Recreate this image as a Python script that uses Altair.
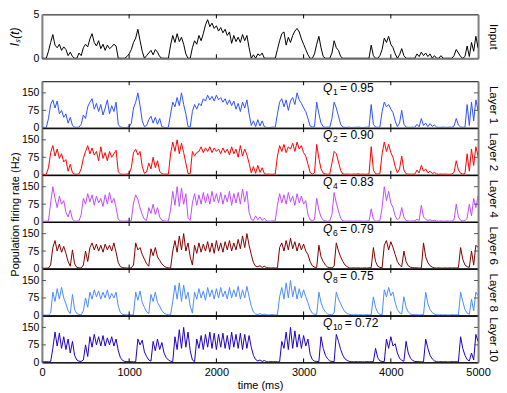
import altair as alt
import pandas as pd

# ---------------- data (25 ms sampling) ----------------
STEP_MS = 25
time_ms = list(range(0, 5001, STEP_MS))

input_current = [
    0, 0, 0, 0.8, 1.8, 2.7, 1.5, 1.2, 1.6, 0.9,
    1.3, 1.0, 0.3, 0.7, 0.2, 0, 0, 0.6, 0.3, 1.2,
    1.6, 1.3, 2.2, 2.8, 1.8, 1.4, 2.0, 1.1, 1.6, 0.9,
    1.5, 1.1, 1.3, 1.6, 1.4, 0, 0, 0, 0, 0.2,
    0.5, 1.0, 1.8, 2.3, 3.3, 2.0, 0.8, 0, 0.3, 0.6,
    0.9, 0.4, 1.0, 0.7, 0.2, 0, 0, 0, 0, 1.5,
    2.6, 1.8, 2.8, 1.9, 2.4, 1.6, 0.5, 0, 0, 1.2,
    2.0, 1.6, 2.6, 2.0, 2.8, 3.8, 4.4, 3.6, 4.0, 3.4,
    3.7, 3.1, 3.5, 2.9, 3.3, 2.6, 3.0, 1.7, 2.6, 1.9,
    2.4, 1.8, 2.7, 2.0, 2.6, 1.2, 0, 0.4, 0, 0.5,
    0.3, 0.6, 0, 0, 0, 0, 0, 0, 1.0, 2.0,
    2.8, 3.0, 1.5, 2.4, 1.8, 2.6, 3.1, 3.4, 3.0, 2.2,
    1.6, 1.0, 0.4, 0, 0, 0.5, 1.6, 2.5, 1.2, 0.2,
    0, 0, 0, 0.6, 2.0, 1.2, 0.9, 0.2, 0, 0,
    0, 0, 0, 0, 0, 0, 0, 0, 0, 0,
    0, 1.5, 0.3, 0, 0, 0.3, 1.0, 2.3, 1.8, 2.5,
    1.6, 1.2, 0.5, 0, 0.4, 1.1, 0.3, 0, 0, 0,
    0, 0, 0.5, 0.2, 0.7, 0.3, 0.6, 0.2, 0.5, 0,
    0.3, 0, 0, 0.3, 0, 0, 0, 0, 0, 0.3,
    1.0, 0.6, 0.2, 0, 0.2, 1.4, 0.2, 1.8, 0.8, 2.5,
    1.2,
]

rate_layer1 = [
    1, 2, 1, 40, 100, 120, 85, 115, 60, 75,
    45, 60, 20, 45, 10, 3, 2, 3, 15, 55,
    40, 90, 110, 125, 80, 105, 70, 100, 55, 85,
    120, 60, 95, 70, 110, 15, 3, 2, 1, 2,
    4, 20, 85, 110, 150, 95, 30, 5, 10, 35,
    50, 20, 45, 15, 40, 5, 2, 1, 3, 60,
    110, 90, 130, 95, 150, 100, 60, 5, 3, 70,
    100, 80, 105, 95, 125, 115, 140, 120, 135, 115,
    140, 120, 130, 110, 125, 100, 120, 95, 115, 80,
    105, 70, 110, 85, 120, 60, 10, 30, 5, 35,
    8, 30, 4, 2, 1, 2, 3, 2, 60, 110,
    125, 90, 120, 75, 115, 130, 100, 150, 120, 105,
    85, 70, 40, 8, 3, 5, 110, 60, 20, 5,
    2, 3, 2, 40, 110, 85, 50, 15, 3, 2,
    2, 3, 1, 2, 2, 3, 2, 1, 2, 3,
    2, 100, 15, 3, 2, 4, 70, 110, 90, 100,
    80, 65, 30, 5, 20, 75, 15, 3, 2, 2,
    3, 2, 15, 4, 40, 10, 20, 5, 18, 6,
    12, 3, 2, 2, 3, 2, 2, 3, 2, 8,
    40, 12, 4, 2, 3, 100, 10, 110, 30, 120,
    75,
]

rate_layer2 = [
    2, 1, 2, 30, 95, 125, 80, 110, 70, 90,
    55, 65, 15, 45, 8, 3, 2, 4, 25, 70,
    100, 125, 90, 115, 85, 100, 60, 120, 70, 95,
    60, 100, 75, 90, 105, 12, 3, 2, 2, 3,
    4, 30, 95, 110, 85, 100, 35, 6, 12, 50,
    25, 75, 30, 60, 15, 4, 2, 3, 2, 90,
    140, 100, 150, 90, 135, 95, 50, 5, 4, 100,
    80, 95, 100, 120, 95, 115, 100, 120, 95, 115,
    100, 110, 90, 115, 95, 110, 85, 120, 90, 110,
    75, 125, 80, 110, 85, 50, 8, 35, 6, 40,
    10, 30, 5, 2, 3, 2, 2, 3, 80, 125,
    100, 130, 95, 120, 110, 135, 100, 140, 110, 125,
    95, 80, 45, 10, 3, 8, 130, 70, 25, 6,
    3, 2, 3, 50, 100, 90, 55, 18, 3, 2,
    3, 2, 2, 3, 2, 4, 2, 3, 2, 2,
    3, 120, 20, 4, 3, 5, 90, 140, 100, 130,
    95, 75, 35, 8, 25, 80, 20, 4, 3, 2,
    3, 2, 20, 8, 40, 15, 25, 8, 15, 5,
    10, 3, 2, 3, 2, 3, 2, 2, 3, 10,
    60, 20, 6, 3, 5, 90, 15, 110, 40, 120,
    80,
]

rate_layer4 = [
    2, 1, 2, 3, 80, 150, 100, 60, 110, 75,
    90, 40, 20, 50, 10, 3, 2, 3, 30, 100,
    75, 120, 85, 115, 70, 110, 80, 100, 65, 115,
    75, 125, 80, 100, 60, 10, 3, 2, 2, 3,
    2, 5, 80, 115, 95, 60, 30, 10, 5, 60,
    35, 75, 30, 60, 20, 6, 3, 2, 3, 50,
    130, 70, 150, 65, 145, 75, 120, 15, 5, 80,
    120, 70, 115, 75, 125, 80, 120, 75, 130, 85,
    120, 80, 125, 75, 115, 85, 130, 70, 120, 80,
    125, 75, 140, 85, 130, 40, 10, 5, 25, 8,
    20, 5, 15, 3, 2, 2, 3, 4, 70, 120,
    80, 115, 75, 125, 85, 110, 70, 120, 80, 110,
    75, 90, 30, 8, 4, 10, 100, 50, 20, 6,
    3, 2, 3, 30, 125, 80, 45, 15, 3, 2,
    2, 3, 2, 2, 3, 2, 3, 2, 2, 3,
    2, 55, 10, 3, 2, 5, 60, 150, 90, 130,
    80, 60, 25, 8, 15, 60, 20, 4, 3, 2,
    3, 3, 10, 5, 70, 20, 10, 5, 8, 4,
    6, 3, 2, 3, 2, 2, 3, 2, 2, 8,
    75, 20, 6, 3, 4, 15, 75, 25, 100, 60,
    110,
]

rate_layer6 = [
    2, 1, 2, 2, 15, 90, 120, 75, 105, 70,
    95, 65, 30, 10, 80, 20, 5, 3, 2, 15,
    75, 30, 90, 110, 80, 105, 75, 100, 70, 105,
    80, 100, 75, 110, 70, 25, 8, 4, 3, 2,
    2, 3, 15, 110, 80, 90, 60, 40, 20, 10,
    85, 55, 90, 50, 35, 20, 10, 5, 3, 2,
    75, 120, 70, 140, 80, 150, 75, 110, 50, 15,
    100, 65, 110, 70, 105, 75, 115, 70, 110, 65,
    120, 75, 110, 70, 115, 80, 120, 75, 110, 80,
    125, 85, 140, 90, 150, 100, 60, 25, 10, 8,
    12, 5, 10, 4, 3, 2, 3, 2, 3, 90,
    110, 75, 120, 80, 130, 85, 115, 75, 110, 80,
    105, 75, 60, 30, 12, 6, 4, 100, 50, 30,
    15, 6, 4, 3, 10, 110, 75, 50, 30, 15,
    8, 3, 2, 3, 2, 3, 2, 2, 3, 2,
    3, 4, 90, 30, 10, 5, 3, 100, 120, 80,
    115, 90, 60, 30, 15, 8, 75, 30, 12, 6,
    4, 3, 3, 2, 3, 110, 50, 25, 12, 6,
    3, 2, 3, 2, 2, 3, 2, 3, 2, 3,
    2, 4, 90, 40, 15, 8, 5, 75, 15, 100,
    90,
]

rate_layer8 = [
    2, 2, 1, 2, 10, 100, 60, 115, 70, 120,
    75, 50, 20, 8, 90, 25, 8, 4, 3, 20,
    75, 35, 100, 70, 110, 80, 105, 70, 100, 75,
    110, 70, 95, 75, 100, 40, 12, 5, 3, 2,
    3, 2, 4, 100, 65, 105, 55, 35, 15, 8,
    90, 60, 100, 55, 40, 20, 10, 5, 3, 3,
    60, 130, 70, 140, 60, 130, 70, 100, 40, 10,
    100, 70, 115, 75, 105, 65, 120, 80, 110, 70,
    115, 75, 120, 80, 105, 70, 120, 75, 110, 80,
    125, 70, 110, 75, 125, 80, 40, 15, 6, 4,
    8, 3, 6, 3, 2, 3, 3, 2, 3, 80,
    120, 70, 140, 75, 150, 80, 125, 70, 115, 75,
    110, 80, 55, 25, 10, 5, 4, 100, 55, 30,
    15, 6, 4, 3, 10, 100, 70, 50, 30, 15,
    8, 5, 3, 2, 3, 2, 3, 2, 2, 3,
    2, 3, 80, 35, 12, 5, 3, 110, 80, 120,
    85, 100, 55, 25, 12, 6, 80, 35, 15, 6,
    4, 3, 3, 2, 3, 4, 100, 50, 25, 12,
    6, 3, 2, 3, 2, 3, 2, 2, 3, 2,
    3, 2, 100, 60, 25, 10, 5, 70, 20, 100,
    85,
]

rate_layer10 = [
    2, 2, 3, 2, 3, 60, 130, 70, 125, 60,
    110, 55, 100, 40, 90, 30, 10, 5, 4, 10,
    75, 25, 110, 65, 120, 75, 110, 70, 115, 70,
    105, 75, 110, 70, 100, 50, 20, 8, 4, 3,
    2, 3, 2, 3, 100, 75, 95, 45, 25, 10,
    5, 90, 50, 100, 55, 85, 40, 20, 10, 5,
    3, 110, 55, 140, 60, 150, 65, 130, 50, 10,
    3, 100, 60, 115, 55, 120, 65, 130, 60, 125,
    55, 120, 65, 125, 60, 115, 55, 130, 65, 120,
    60, 125, 55, 120, 60, 115, 65, 30, 12, 6,
    10, 4, 8, 3, 2, 3, 2, 3, 2, 3,
    90, 60, 130, 55, 150, 60, 135, 65, 120, 60,
    115, 70, 100, 35, 12, 5, 4, 3, 110, 60,
    30, 15, 6, 4, 3, 120, 90, 55, 30, 15,
    8, 4, 3, 2, 3, 2, 3, 2, 2, 3,
    2, 3, 3, 60, 20, 6, 4, 3, 100, 60,
    110, 70, 80, 40, 18, 8, 5, 90, 40, 18,
    8, 4, 3, 3, 2, 3, 100, 60, 30, 15,
    6, 3, 2, 3, 2, 3, 2, 2, 3, 2,
    3, 2, 110, 60, 30, 12, 6, 40, 10, 120,
    90,
]

layer_names = ["Layer 1", "Layer 2", "Layer 4", "Layer 6", "Layer 8", "Layer 10"]
layer_subs = ["1", "2", "4", "6", "8", "10"]
layer_q = ["0.95", "0.90", "0.83", "0.79", "0.75", "0.72"]
layer_colors = ["#2f52ff", "#ff0000", "#c04cff", "#800000", "#4a8cff", "#1f00c8"]
layer_rates = [rate_layer1, rate_layer2, rate_layer4, rate_layer6, rate_layer8, rate_layer10]

x_tick_vals = [0, 1000, 2000, 3000, 4000, 5000]
inner_x_ticks = [1000, 2000, 3000, 4000]
rate_ticks = [0, 75, 150]
rate_inner_ticks = [75, 150]
input_ticks = [0, 5]
rate_domain = [0, 200]
input_domain = [0, 5]
q_anchor = (3330, 153)

for nm, arr in [("input", input_current)] + list(zip(layer_names, layer_rates)):
    assert len(arr) == len(time_ms), (nm, len(arr))

# ---------------- layout ----------------
W = 437
H_IN = 44
H_L = 46.67
FONT = "Liberation Sans"
GRAY = "#808080"
TICK = 4
XS = alt.Scale(domain=[0, 5000], nice=False, zero=False)


def panel(values, color, ydom, yticks, yinner, right_title, height,
          left_title=None, left_title_x=-21.5, left_title_y=None, italic=False,
          title_size=11, bottom_color=GRAY, bottom_width=2, last=False, q=None):
    ys = alt.Scale(domain=ydom, nice=False, zero=False)
    df = pd.DataFrame({"t": time_ms, "v": values})

    xa = dict(orient="bottom", values=x_tick_vals, ticks=False, labels=last,
              labelFlush=False, labelPadding=4, labelFontSize=11, domainColor=bottom_color,
              domainWidth=bottom_width, grid=False, title=None, format="d")
    if last:
        xa.update(title="time (ms)", titlePadding=2)
    ya = dict(orient="left", values=yticks, ticks=False, labelPadding=3,
              domainColor=GRAY, domainWidth=2, grid=False, title=None,
              labelBaseline="middle", labelFontSize=10.5)
    if left_title:
        ya.update(title=left_title, titleX=left_title_x, titleAngle=-90,
                  titleBaseline="bottom", titleAlign="center", titleFontSize=title_size,
                  titleY=left_title_y if left_title_y is not None else height / 2)
        if italic:
            ya.update(titleFontStyle="italic")

    line = alt.Chart(df).mark_line(color=color, strokeWidth=1.0, clip=True).encode(
        x=alt.X("t:Q", scale=XS, axis=alt.Axis(**xa)),
        y=alt.Y("v:Q", scale=ys, axis=alt.Axis(**ya)),
    )
    ghost = alt.Chart(df).mark_line(opacity=0).encode(
        x=alt.X("t:Q", scale=XS, axis=None),
        y=alt.Y("v:Q", scale=ys, axis=alt.Axis(
            orient="right", labels=False, ticks=False, domainColor=GRAY,
            domainWidth=2, grid=False, title=right_title, titleAngle=90,
            titleX=9, titleY=height / 2, titleBaseline="bottom",
            titleAlign="center", titleFontSize=11.5)),
    )
    xt = pd.DataFrame({"t": inner_x_ticks})
    top_ticks = alt.Chart(xt).mark_rule(color="black", strokeWidth=1).encode(
        x=alt.X("t:Q", scale=XS, axis=None), y=alt.value(0), y2=alt.value(TICK))
    bot_ticks = alt.Chart(xt).mark_rule(color="black", strokeWidth=1).encode(
        x=alt.X("t:Q", scale=XS, axis=None), y=alt.value(height), y2=alt.value(height - TICK))
    layers = [line, ghost, top_ticks, bot_ticks]
    if yinner:
        yt = pd.DataFrame({"v": yinner})
        layers.append(alt.Chart(yt).mark_rule(color="#555555", strokeWidth=1).encode(
            y=alt.Y("v:Q", scale=ys, axis=None), x=alt.value(0), x2=alt.value(TICK)))
        layers.append(alt.Chart(yt).mark_rule(color="#555555", strokeWidth=1).encode(
            y=alt.Y("v:Q", scale=ys, axis=None), x=alt.value(W), x2=alt.value(W - TICK)))
    if q is not None:
        sub, val = q
        qd = pd.DataFrame({"t": [q_anchor[0]], "v": [q_anchor[1]]})
        enc = dict(x=alt.X("t:Q", scale=XS, axis=None), y=alt.Y("v:Q", scale=ys, axis=None))
        sub_w = 4.7 * len(sub)
        layers.append(alt.Chart(qd).mark_text(text="Q", fontStyle="italic", fontSize=12,
                                              align="right", baseline="alphabetic",
                                              font=FONT, color="black").encode(**enc))
        layers.append(alt.Chart(qd).mark_text(text=sub, fontSize=8.5, align="left",
                                              baseline="alphabetic", dx=0.5, dy=3,
                                              font=FONT, color="black").encode(**enc))
        layers.append(alt.Chart(qd).mark_text(text="= " + val, fontSize=12, align="left",
                                              baseline="alphabetic", dx=sub_w + 3,
                                              font=FONT, color="black").encode(**enc))
    return alt.layer(*layers).resolve_axis(x="independent", y="independent").properties(
        width=W, height=height)


input_panel = panel(input_current, "black", input_domain, input_ticks, [], "Input", H_IN,
                    left_title="Iₛ(t)", left_title_x=-20, title_size=12, italic=True)

layer_panels = []
for k, (nm, sub, qv, col, vals) in enumerate(zip(layer_names, layer_subs, layer_q,
                                                  layer_colors, layer_rates)):
    kw = {}
    if k == 2:
        kw.update(left_title="Population firing rate (Hz)", left_title_y=39)
    bcol, bw = (GRAY, 2) if k < 3 else ("black", 1)
    layer_panels.append(panel(vals, col, rate_domain, rate_ticks, rate_inner_ticks, nm, H_L,
                              bottom_color=bcol, bottom_width=bw, last=(k == 5),
                              q=(sub, qv), **kw))

inner = alt.vconcat(*layer_panels, spacing=0, bounds="flush")
chart = alt.vconcat(input_panel, inner, spacing=23, bounds="flush").properties(
    padding={"left": 0, "top": 0, "right": 0, "bottom": 0}
).configure_view(stroke="black", strokeWidth=1).configure_axis(
    labelFont=FONT, titleFont=FONT, labelFontSize=11, titleFontSize=11,
    titleFontWeight="normal", labelColor="black", titleColor="black", grid=False
)

chart.save("out.html", embed_options={"renderer": "svg", "actions": False})
